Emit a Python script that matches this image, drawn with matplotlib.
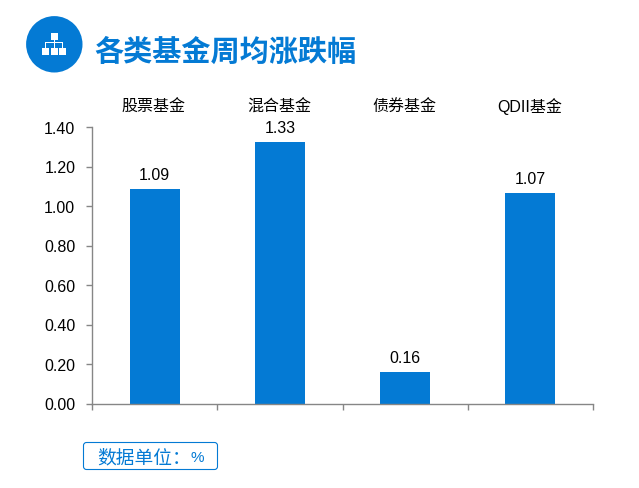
# coding: utf-8
import matplotlib
matplotlib.use("Agg")
import matplotlib.pyplot as plt
from matplotlib.patches import Circle, FancyBboxPatch, Rectangle

plt.rcParams['font.family'] = ['Liberation Sans', 'Noto Sans CJK SC', 'DejaVu Sans']

categories = ["股票基金", "混合基金", "债券基金", "QDII基金"]
values = [1.086, 1.324, 0.16, 1.066]
value_labels = ["1.09", "1.33", "0.16", "1.07"]
yticks = [0.00, 0.20, 0.40, 0.60, 0.80, 1.00, 1.20, 1.40]
title = "各类基金周均涨跌幅"
unit_text = "数据单位："
unit_sign = "%"

BLUE = "#047ad4"
GREY = "#868686"
W, H = 639, 489

fig = plt.figure(figsize=(W / 100, H / 100), dpi=100)
ax = fig.add_axes([92.0 / W, 1 - 404.5 / H, 501 / W, 276.5 / H])

x = list(range(len(categories)))
ax.bar(x, values, width=0.4, color=BLUE)
ax.set_xlim(-0.5, 3.5)
ax.set_ylim(0, 1.4)

ax.set_yticks(yticks)
ax.set_yticklabels(["%.2f" % t for t in yticks], fontsize=11.5, color="black")
ax.set_xticks([-0.5, 0.5, 1.5, 2.5, 3.5])
ax.set_xticklabels([])
ax.tick_params(axis='both', color=GREY, width=1, length=4, direction='out', pad=8)
for s in ['top', 'right']:
    ax.spines[s].set_visible(False)
for s in ['left', 'bottom']:
    ax.spines[s].set_color(GREY)
    ax.spines[s].set_linewidth(1)

# 柱子上方的数值
for i, v in enumerate(values):
    ax.annotate(value_labels[i], (i, v), xytext=(0, 5.3), textcoords='offset points',
                ha='center', va='bottom', fontsize=11.5, color="black")

# 顶部的类别名称
for i, c in enumerate(categories):
    ax.annotate(c, (i, 1.4), xytext=(-0.7, 9.7), textcoords='offset points',
                ha='center', va='bottom', fontsize=11.5, color="black")

# 以像素为单位的覆盖层
over = fig.add_axes([0, 0, 1, 1], facecolor='none')
over.set_xlim(0, W)
over.set_ylim(H, 0)
over.axis('off')

over.add_patch(Circle((54.3, 45.3), 28.2, color=BLUE, lw=0))
# 图标：组织结构图
over.add_patch(Rectangle((50.5, 34), 7, 6.5, color="white", lw=0))
over.add_patch(Rectangle((53.5, 40), 1, 3.5, color="white", lw=0))
over.add_patch(Rectangle((45, 43), 18, 1, color="white", lw=0))
for px in (45, 53.5, 62):
    over.add_patch(Rectangle((px, 43), 1, 6, color="white", lw=0))
for px in (41.8, 50.6, 59.3):
    over.add_patch(Rectangle((px, 48.7), 7, 7, color="white", lw=0))

over.text(94.5, 52, title, fontsize=21, fontweight='bold', color=BLUE,
          ha='left', va='center', family=['Noto Sans CJK SC', 'DejaVu Sans'])

over.add_patch(FancyBboxPatch((83.5, 443.5), 134, 27, boxstyle="round,pad=0,rounding_size=3",
                              fc="white", ec=BLUE, lw=0.8))
over.text(97, 457.5, unit_text, fontsize=13.5, color=BLUE, ha='left', va='center',
          family=['Noto Sans CJK SC', 'DejaVu Sans'])
over.text(197.5, 458, unit_sign, fontsize=11, color=BLUE, ha='center', va='center')

fig.savefig("out.png", dpi=100)
